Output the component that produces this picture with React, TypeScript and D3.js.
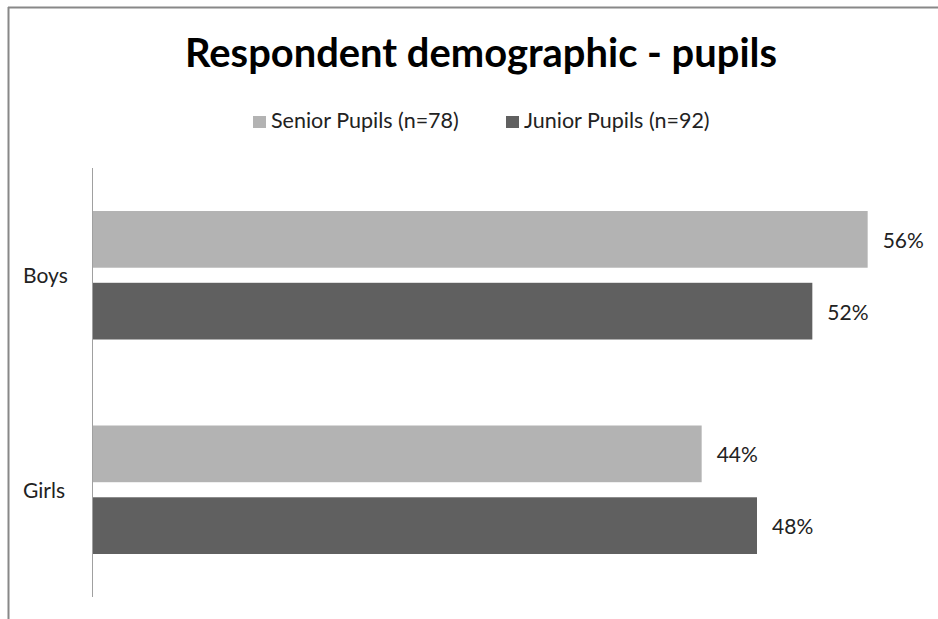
import React from "react";
import * as d3 from "d3";

const categories = ["Boys", "Girls"];
const seriesNames = ["Senior Pupils (n=78)", "Junior Pupils (n=92)"];
const seniorValues = [56, 44];
const juniorValues = [52, 48];
const colors = ["#b3b3b3", "#606060"];

const W = 938;
const H = 619;
const FONT = "Lato, 'Open Sans', sans-serif";

export default function App() {
  const plot = { left: 93, right: 923, top: 168, bottom: 597 };
  const x = d3.scaleLinear().domain([0, 60]).range([plot.left, plot.right]);
  const y = d3
    .scaleBand<string>()
    .domain(categories)
    .range([plot.top, plot.bottom])
    .paddingInner(0)
    .paddingOuter(0);
  const inner = d3
    .scaleBand<string>()
    .domain(seriesNames)
    .range([43, y.bandwidth() - 43])
    .paddingInner(0.21)
    .paddingOuter(0);
  const series = [seniorValues, juniorValues];

  return (
    <svg
      width={W}
      height={H}
      style={{ position: "absolute", left: 0, top: 0, background: "#fff" }}
      fontFamily={FONT}
    >
      <rect x={0} y={0} width={W} height={H} fill="#fff" />
      <line x1={8.5} y1={7} x2={8.5} y2={H} stroke="#888" strokeWidth={2} />
      <line x1={8} y1={7.5} x2={W} y2={7.5} stroke="#888" strokeWidth={2} />
      <text
        x={481}
        y={67}
        textAnchor="middle"
        fontSize={39.5}
        fontWeight="bold"
        fill="#000"
        textLength={592}
        lengthAdjust="spacingAndGlyphs"
      >
        Respondent demographic - pupils
      </text>
      {seriesNames.map((s, i) => {
        const lx = i === 0 ? 253 : 506;
        return (
          <g key={s}>
            <rect x={lx} y={116} width={13} height={12} fill={colors[i]} />
            <text x={lx + 18} y={128} fontSize={21.5} fill="#222">
              {s}
            </text>
          </g>
        );
      })}
      {categories.map((c, ci) =>
        series.map((vals, si) => {
          const by = (y(c) as number) + (inner(seriesNames[si]) as number);
          const bh = inner.bandwidth();
          return (
            <g key={c + si}>
              <rect
                x={x(0)}
                y={by}
                width={x(vals[ci]) - x(0)}
                height={bh}
                fill={colors[si]}
              />
              <text
                x={x(vals[ci]) + 15}
                y={by + bh / 2 + 8.5}
                fontSize={21}
                fill="#222"
              >
                {vals[ci]}%
              </text>
            </g>
          );
        })
      )}
      {categories.map((c) => (
        <text
          key={c}
          x={23}
          y={(y(c) as number) + y.bandwidth() / 2 + 8}
          fontSize={21}
          fill="#222"
        >
          {c}
        </text>
      ))}
      <line
        x1={92.5}
        y1={plot.top}
        x2={92.5}
        y2={plot.bottom}
        stroke="#a0a0a0"
        strokeWidth={1}
      />
    </svg>
  );
}
